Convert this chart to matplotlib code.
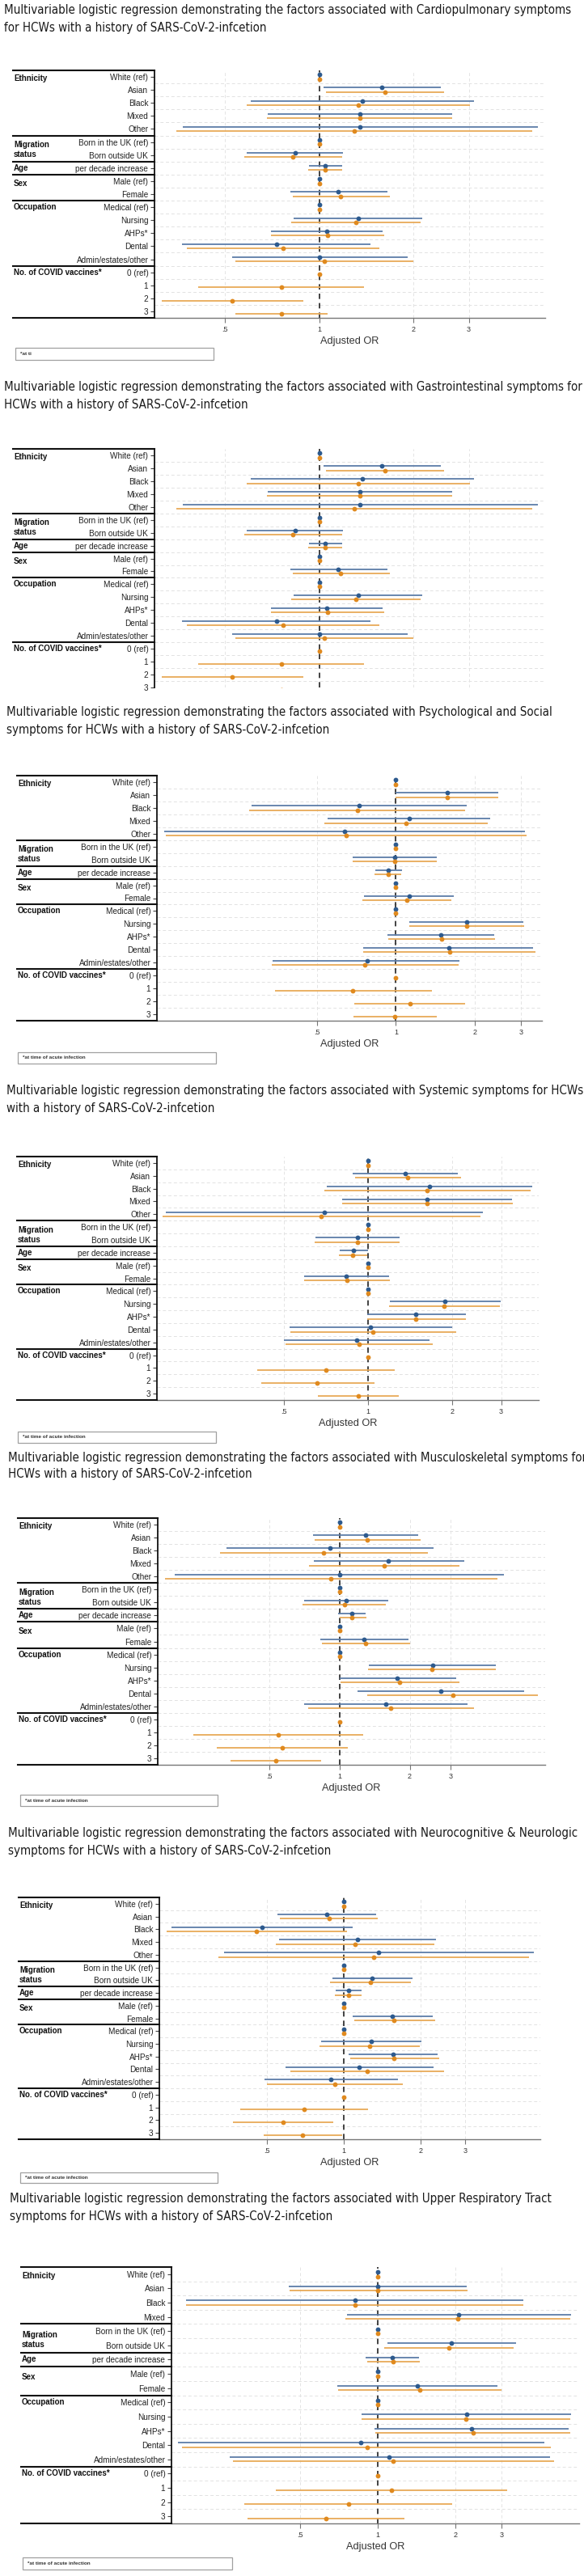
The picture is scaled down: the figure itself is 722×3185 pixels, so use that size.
import numpy as np
import matplotlib
matplotlib.use('Agg')
import matplotlib.pyplot as plt
from matplotlib import font_manager, transforms
from matplotlib.font_manager import FontProperties
from matplotlib.patches import Rectangle
from matplotlib.lines import Line2D

nan = np.nan
W, H = 722, 3185  # output size in pixels (dpi 100)

# narrow font for the titles if one is installed
files = [f.fname for f in font_manager.fontManager.ttflist]
title_file = None
for key in ('LiberationSansNarrow-Regular', 'DejaVuSansCondensed.ttf', 'LiberationSans-Regular'):
    hits = [f for f in files if key in f]
    if hits:
        title_file = hits[0]
        break
title_prop = FontProperties(fname=title_file) if title_file else FontProperties(family='DejaVu Sans')
plt.rcParams['font.family'] = ['Liberation Sans', 'DejaVu Sans']

# ---------------- data ----------------
rows = ['White (ref)', 'Asian', 'Black', 'Mixed', 'Other',
        'Born in the UK (ref)', 'Born outside UK', 'per decade increase',
        'Male (ref)', 'Female', 'Medical (ref)', 'Nursing', 'AHPs*', 'Dental',
        'Admin/estates/other', '0 (ref)', '1', '2', '3']
rows_urt = [r for r in rows if r != 'Other']

# group label, first row of the group, shift of the label in rows
groups = [('Ethnicity', 'White (ref)', 0.15),
          ('Migration\nstatus', 'Born in the UK (ref)', 0.6),
          ('Age', 'per decade increase', 0.0),
          ('Sex', 'Male (ref)', 0.2),
          ('Occupation', 'Medical (ref)', 0.0),
          ('No. of COVID vaccines*', '0 (ref)', 0.0)]

# Cardiopulmonary
cardio_b = [1, 1.58, 1.37, 1.35, 1.35, 1, 0.838, 1.045, 1, 1.15, 1, 1.33, 1.054, 0.73, 1.0, nan, nan, nan, nan]
cardio_b_lo = [1, 1.03, 0.605, 0.685, 0.366, 1, 0.587, 0.926, 1, 0.806, 1, 0.827, 0.70, 0.365, 0.525, nan, nan, nan, nan]
cardio_b_hi = [1, 2.44, 3.11, 2.65, 5.0, 1, 1.19, 1.18, 1, 1.65, 1, 2.13, 1.595, 1.46, 1.91, nan, nan, nan, nan]
cardio_o = [1, 1.62, 1.33, 1.35, 1.29, 1, 0.824, 1.042, 1, 1.17, 1, 1.31, 1.06, 0.765, 1.04, 1, 0.755, 0.527, 0.757]
cardio_o_lo = [1, 1.05, 0.585, 0.68, 0.349, 1, 0.577, 0.92, 1, 0.822, 1, 0.811, 0.70, 0.378, 0.54, 1, 0.41, 0.314, 0.539]
cardio_o_hi = [1, 2.50, 3.03, 2.66, 4.77, 1, 1.18, 1.18, 1, 1.68, 1, 2.11, 1.61, 1.55, 2.0, 1, 1.385, 0.888, 1.063]

# Gastrointestinal (the picture repeats the cardiopulmonary plot)
gastro_b, gastro_b_lo, gastro_b_hi = list(cardio_b), list(cardio_b_lo), list(cardio_b_hi)
gastro_o, gastro_o_lo, gastro_o_hi = list(cardio_o), list(cardio_o_lo), list(cardio_o_hi)

# Psychological and Social
psych_b = [1, 1.566, 0.726, 1.122, 0.636, 1, 0.987, 0.936, 1, 1.122, 1, 1.86, 1.486, 1.587, 0.776, nan, nan, nan, nan]
psych_b_lo = [1, 1.0, 0.2815, 0.55, 0.131, 1, 0.684, 0.837, 1, 0.758, 1, 1.122, 0.93, 0.753, 0.34, nan, nan, nan, nan]
psych_b_hi = [1, 2.46, 1.86, 2.28, 3.1, 1, 1.43, 1.054, 1, 1.657, 1, 3.05, 2.37, 3.33, 1.75, nan, nan, nan, nan]
psych_o = [1, 1.566, 0.714, 1.09, 0.647, 1, 0.987, 0.933, 1, 1.10, 1, 1.86, 1.49, 1.60, 0.763, 1, 0.686, 1.13, 0.993]
psych_o_lo = [1, 1.0, 0.277, 0.534, 0.133, 1, 0.684, 0.831, 1, 0.746, 1, 1.126, 0.933, 0.753, 0.337, 1, 0.346, 0.696, 0.691]
psych_o_hi = [1, 2.46, 1.835, 2.24, 3.15, 1, 1.43, 1.05, 1, 1.63, 1, 3.08, 2.39, 3.39, 1.735, 1, 1.37, 1.83, 1.43]

# Systemic
syst_b = [1, 1.36, 1.665, 1.63, 0.695, 1, 0.917, 0.886, 1, 0.833, 1, 1.886, 1.479, 1.022, 0.911, nan, nan, nan, nan]
syst_b_lo = [1, 0.88, 0.713, 0.81, 0.188, 1, 0.647, 0.792, 1, 0.588, 1, 1.194, 0.99, 0.522, 0.498, nan, nan, nan, nan]
syst_b_hi = [1, 2.10, 3.88, 3.29, 2.58, 1, 1.30, 0.997, 1, 1.186, 1, 2.98, 2.237, 2.006, 1.665, nan, nan, nan, nan]
syst_o = [1, 1.386, 1.624, 1.63, 0.68, 1, 0.914, 0.883, 1, 0.838, 1, 1.87, 1.484, 1.044, 0.928, 1, 0.708, 0.656, 0.922]
syst_o_lo = [1, 0.897, 0.695, 0.807, 0.183, 1, 0.645, 0.785, 1, 0.59, 1, 1.186, 0.99, 0.528, 0.506, 1, 0.40, 0.413, 0.662]
syst_o_hi = [1, 2.15, 3.82, 3.31, 2.525, 1, 1.294, 0.994, 1, 1.197, 1, 2.96, 2.25, 2.063, 1.70, 1, 1.247, 1.054, 1.286]

# Musculoskeletal
musc_b = [1, 1.296, 0.912, 1.625, 1.0, 1, 1.069, 1.134, 1, 1.277, 1, 2.50, 1.77, 2.71, 1.582, nan, nan, nan, nan]
musc_b_lo = [1, 0.772, 0.33, 0.78, 0.197, 1, 0.708, 0.989, 1, 0.831, 1, 1.335, 1.0, 1.199, 0.708, nan, nan, nan, nan]
musc_b_hi = [1, 2.18, 2.53, 3.42, 5.05, 1, 1.613, 1.296, 1, 1.97, 1, 4.66, 3.16, 6.19, 3.55, nan, nan, nan, nan]
musc_o = [1, 1.315, 0.859, 1.554, 0.922, 1, 1.049, 1.134, 1, 1.296, 1, 2.49, 1.816, 3.06, 1.66, 1, 0.547, 0.569, 0.533]
musc_o_lo = [1, 0.783, 0.309, 0.741, 0.18, 1, 0.698, 1.0, 1, 0.84, 1, 1.325, 1.011, 1.32, 0.735, 1, 0.238, 0.299, 0.341]
musc_o_hi = [1, 2.22, 2.39, 3.27, 4.73, 1, 1.583, 1.306, 1, 2.0, 1, 4.67, 3.26, 7.1, 3.78, 1, 1.263, 1.085, 0.837]

# Neurocognitive & Neurologic
neuro_b = [1, 0.855, 0.477, 1.134, 1.367, 1, 1.295, 1.045, 1, 1.555, 1, 1.281, 1.56, 1.15, 0.888, nan, nan, nan, nan]
neuro_b_lo = [1, 0.55, 0.211, 0.556, 0.338, 1, 0.903, 0.931, 1, 1.081, 1, 0.813, 1.045, 0.589, 0.487, nan, nan, nan, nan]
neuro_b_hi = [1, 1.335, 1.081, 2.30, 5.58, 1, 1.862, 1.177, 1, 2.23, 1, 2.02, 2.33, 2.245, 1.63, nan, nan, nan, nan]
neuro_o = [1, 0.876, 0.455, 1.107, 1.308, 1, 1.273, 1.045, 1, 1.577, 1, 1.264, 1.577, 1.239, 0.925, 1, 0.698, 0.577, 0.69]
neuro_o_lo = [1, 0.56, 0.201, 0.541, 0.321, 1, 0.885, 0.925, 1, 1.096, 1, 0.804, 1.056, 0.619, 0.50, 1, 0.392, 0.366, 0.485]
neuro_o_hi = [1, 1.362, 1.027, 2.27, 5.34, 1, 1.838, 1.177, 1, 2.277, 1, 1.99, 2.37, 2.47, 1.71, 1, 1.247, 0.912, 0.986]

# Upper Respiratory Tract (no "Other" row)
urt_b = [1, 1.0, 0.813, 2.054, 1, 1.921, 1.14, 1, 1.416, 1, 2.205, 2.30, 0.857, 1.105, nan, nan, nan, nan]
urt_b_lo = [1, 0.452, 0.181, 0.757, 1, 1.087, 0.898, 1, 0.694, 1, 0.866, 0.967, 0.168, 0.267, nan, nan, nan, nan]
urt_b_hi = [1, 2.205, 3.65, 5.57, 1, 3.42, 1.44, 1, 2.90, 1, 5.58, 5.48, 4.41, 4.62, nan, nan, nan, nan]
urt_o = [1, 1.0, 0.813, 2.04, 1, 1.876, 1.147, 1, 1.455, 1, 2.195, 2.33, 0.907, 1.143, 1, 1.128, 0.77, 0.628]
urt_o_lo = [1, 0.455, 0.181, 0.747, 1, 1.058, 0.91, 1, 0.703, 1, 0.863, 0.977, 0.175, 0.274, 1, 0.402, 0.305, 0.312]
urt_o_hi = [1, 2.22, 3.65, 5.53, 1, 3.34, 1.455, 1, 3.0, 1, 5.54, 5.54, 4.67, 4.81, 1, 3.17, 1.94, 1.268]

lead = 'Multivariable logistic regression demonstrating the factors associated with '
titles = [
    (lead + 'Cardiopulmonary symptoms', 'for HCWs with a history of SARS-CoV-2-infcetion'),
    (lead + 'Gastrointestinal symptoms for', 'HCWs with a history of SARS-CoV-2-infcetion'),
    (lead + 'Psychological and Social', 'symptoms for HCWs with a history of SARS-CoV-2-infcetion'),
    (lead + 'Systemic symptoms for HCWs', 'with a history of SARS-CoV-2-infcetion'),
    (lead + 'Musculoskeletal symptoms for', 'HCWs with a history of SARS-CoV-2-infcetion'),
    (lead + 'Neurocognitive & Neurologic', 'symptoms for HCWs with a history of SARS-CoV-2-infcetion'),
    (lead + 'Upper Respiratory Tract', 'symptoms for HCWs with a history of SARS-CoV-2-infcetion'),
]

# layout in output pixels: title x, title line y's, plot top/bottom, plot left/right,
# label-table left, x limits, footnote box
panels = [
    dict(rows=rows, data=(cardio_b, cardio_b_lo, cardio_b_hi, cardio_o, cardio_o_lo, cardio_o_hi),
         tx=5, ty=(12, 34), top=87, bot=393, x0=191, x1=674, gx=16, xlim=(0.2975, 5.26),
         foot=(19, 430, 264, 445, '*at ti')),
    dict(rows=rows, data=(gastro_b, gastro_b_lo, gastro_b_hi, gastro_o, gastro_o_lo, gastro_o_hi),
         tx=5, ty=(479, 500), top=555, bot=850, x0=191, x1=674, gx=16, xlim=(0.2975, 5.26),
         ylow=17.71, foot=None),
    dict(rows=rows, data=(psych_b, psych_b_lo, psych_b_hi, psych_o, psych_o_lo, psych_o_hi),
         tx=8, ty=(880, 902), top=959, bot=1262, x0=194, x1=670, gx=21, xlim=(0.123, 3.6),
         foot=(22, 1301, 267, 1315, '*at time of acute infection')),
    dict(rows=rows, data=(syst_b, syst_b_lo, syst_b_hi, syst_o, syst_o_lo, syst_o_hi),
         tx=8, ty=(1349, 1371), top=1430, bot=1731, x0=194, x1=666, gx=21, xlim=(0.175, 4.09),
         foot=(22, 1770, 267, 1784, '*at time of acute infection')),
    dict(rows=rows, data=(musc_b, musc_b_lo, musc_b_hi, musc_o, musc_o_lo, musc_o_hi),
         tx=10, ty=(1802, 1823), top=1877, bot=2182, x0=195, x1=674, gx=22, xlim=(0.167, 7.6),
         foot=(25, 2219, 269, 2233, '*at time of acute infection')),
    dict(rows=rows, data=(neuro_b, neuro_b_lo, neuro_b_hi, neuro_o, neuro_o_lo, neuro_o_hi),
         tx=10, ty=(2267, 2288), top=2346, bot=2645, x0=197, x1=668, gx=23, xlim=(0.1886, 5.91),
         foot=(25, 2686, 269, 2699, '*at time of acute infection')),
    dict(rows=rows_urt, data=(urt_b, urt_b_lo, urt_b_hi, urt_o, urt_o_lo, urt_o_hi),
         tx=12, ty=(2718, 2741), top=2803, bot=3120, x0=212, x1=716, gx=26, xlim=(0.159, 6.0),
         foot=(28, 3162, 287, 3177, '*at time of acute infection')),
]

blue_dot, blue_line = '#2d5a8e', '#5d7da8'
orange_dot, orange_line = '#e08a1f', '#e8aa58'

fig = plt.figure(figsize=(W / 100, H / 100), dpi=100)
renderer = fig.canvas.get_renderer()

# size the title font so the first title line spans ~700 px like the reference
probe = fig.text(0, 0, titles[0][0], fontproperties=title_prop, fontsize=12)
tw = probe.get_window_extent(renderer).width
probe.remove()
title_size = min(12.6, 12 * 698 / tw)

for p, (t1, t2) in zip(panels, titles):
    for ty, line in zip(p['ty'], (t1, t2)):
        fig.text(p['tx'] / W, 1 - ty / H, line, va='center', ha='left',
                 fontproperties=title_prop, fontsize=title_size, color='#1a1a1a')

    labels = p['rows']
    n = len(labels)
    y = np.arange(n)
    top, bot, x0, x1 = p['top'], p['bot'], p['x0'], p['x1']
    ax = fig.add_axes([x0 / W, 1 - bot / H, (x1 - x0) / W, (bot - top) / H])
    ax.set_xscale('log')
    ax.set_xlim(*p['xlim'])
    ylow = p.get('ylow', n - 0.5)
    ax.set_ylim(ylow, -0.5)
    off = 2.7 / ((bot - top) / (ylow + 0.5))

    # light dashed grid
    for gxv in (0.5, 2, 3):
        ax.axvline(gxv, color='#e4e4e4', lw=0.7, ls=(0, (4, 3)), zorder=0)
    ax.hlines(y[:-1] + 0.5, p['xlim'][0], p['xlim'][1], color='#e2e2e2', lw=0.7,
              ls=(0, (4, 3)), zorder=0)
    ax.axvline(1, color='#222222', lw=1.2, ls=(0, (4, 3)), zorder=1)

    b, b_lo, b_hi, o, o_lo, o_hi = [np.array(a, dtype=float) for a in p['data']]
    mb = ~np.isnan(b)
    ax.hlines(y[mb] - off, b_lo[mb], b_hi[mb], color=blue_line, lw=1.3, zorder=2)
    ax.hlines(y + off, o_lo, o_hi, color=orange_line, lw=1.3, zorder=2)
    ax.plot(b[mb], y[mb] - off, 'o', ms=4.2, color=blue_dot, mec='none', zorder=3)
    ax.plot(o, y + off, 'o', ms=4.2, color=orange_dot, mec='none', zorder=3)

    for s in ('top', 'right'):
        ax.spines[s].set_visible(False)
    ax.spines['left'].set_color('#111111')
    ax.spines['left'].set_linewidth(1.3)
    ax.spines['bottom'].set_color('#777777')
    ax.spines['bottom'].set_linewidth(1.0)

    ax.set_yticks(y)
    ax.set_yticklabels(labels)
    ax.tick_params(axis='y', length=3.5, width=0.8, color='#444444', pad=2,
                   labelsize=7.2, labelcolor='#222222')
    ax.set_xticks([0.5, 1, 2, 3])
    ax.set_xticklabels(['.5', '1', '2', '3'])
    ax.xaxis.set_minor_locator(matplotlib.ticker.NullLocator())
    ax.tick_params(axis='x', length=4, width=0.8, color='#777777', pad=3,
                   labelsize=6.5, labelcolor='#333333')

    if 'ylow' in p:
        ax.spines['bottom'].set_visible(False)
        ax.tick_params(axis='x', length=0, labelbottom=False)
    else:
        ax.set_xlabel('Adjusted OR', fontsize=9.2, color='#333333')
        ax.xaxis.label.set_va('center')
        ax.xaxis.set_label_coords(0.5, -29 / (bot - top))

    # label table: group names and separator lines
    trans = transforms.blended_transform_factory(fig.transFigure, ax.transData)
    starts = [labels.index(g[1]) for g in groups]
    for bnd in [s - 0.5 for s in starts] + [n - 0.5]:
        if bnd > ylow:
            continue
        fig.add_artist(Line2D([p['gx'] / W, x0 / W], [bnd, bnd], transform=trans,
                              color='#111111', lw=1.5, clip_on=False))
    for (gname, first, shift), s in zip(groups, starts):
        fig.text((p['gx'] + 1) / W, s + shift, gname, transform=trans, ha='left',
                 va='center', fontsize=7, fontweight='bold', color='#111111',
                 linespacing=1.25)

    if p['foot'] is not None:
        fx0, fy0, fx1, fy1, ftxt = p['foot']
        fig.add_artist(Rectangle((fx0 / W, 1 - fy1 / H), (fx1 - fx0) / W, (fy1 - fy0) / H,
                                 transform=fig.transFigure, facecolor='white',
                                 edgecolor='#a0a0a0', lw=0.9))
        fig.text((fx0 + 6) / W, 1 - (fy0 + fy1) / 2 / H, ftxt, fontsize=4.6,
                 fontweight='bold', color='#333333', va='center', ha='left')

fig.savefig('out.png', dpi=100, facecolor='white')
